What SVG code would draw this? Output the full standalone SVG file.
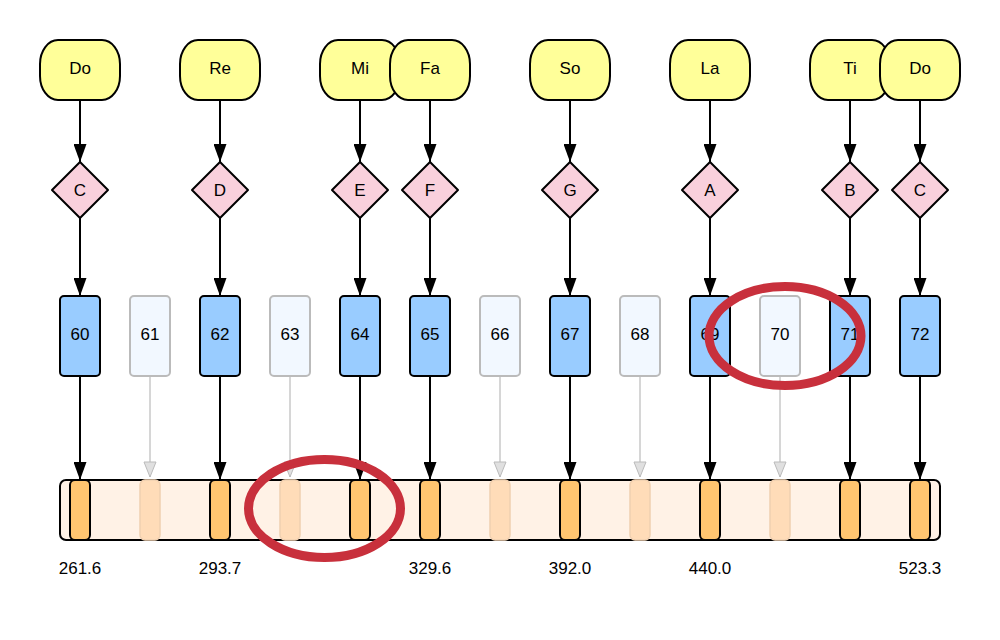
<svg xmlns="http://www.w3.org/2000/svg" width="1000" height="640" viewBox="0 0 1000 640">
<defs>
<style>
text{font-family:"Liberation Sans",Arial,sans-serif;font-size:17px;fill:#000;text-anchor:middle;dominant-baseline:central}
.syl{fill:#ffff99;stroke:#000;stroke-width:2}
.dia{fill:#f9d0dc;stroke:#000;stroke-width:2;stroke-linejoin:round}
.key{fill:#99ccff;stroke:#000;stroke-width:2}
.gkey{fill:#f2f8ff;stroke:#bbbbbb;stroke-width:2}
.bar{fill:#fff2e6;stroke:#000;stroke-width:2}
.pk{fill:#ffc570;stroke:#000;stroke-width:2}
.gpk{fill:#ffdcb8;stroke:#f0d0b0;stroke-width:1.5}
.c{stroke:#000;stroke-width:2;fill:none;marker-end:url(#ah)}
.g{stroke:#c8c8c8;stroke-width:1.5;fill:none;marker-end:url(#gh)}
.mark{fill:none;stroke:#c8303c;stroke-width:9}
</style>
<marker id="ah" viewBox="0 0 18 13" refX="18" refY="6.5" markerWidth="18" markerHeight="13" markerUnits="userSpaceOnUse" orient="auto">
<path d="M0,0 L18,6.5 L0,13 Z" fill="#000"/>
</marker>
<marker id="gh" viewBox="-1 -1 17 14" refX="15" refY="6" markerWidth="17" markerHeight="14" markerUnits="userSpaceOnUse" orient="auto">
<path d="M0,0 L15,6 L0,12 Z" fill="#e0e0e0" stroke="#bbbbbb" stroke-width="1"/>
</marker>
</defs>
<rect width="1000" height="640" fill="#fff"/>

<g id="connectors">
<line class="c" x1="80" y1="100" x2="80" y2="162"/>
<line class="c" x1="220" y1="100" x2="220" y2="162"/>
<line class="c" x1="360" y1="100" x2="360" y2="162"/>
<line class="c" x1="430" y1="100" x2="430" y2="162"/>
<line class="c" x1="570" y1="100" x2="570" y2="162"/>
<line class="c" x1="710" y1="100" x2="710" y2="162"/>
<line class="c" x1="850" y1="100" x2="850" y2="162"/>
<line class="c" x1="920" y1="100" x2="920" y2="162"/>
<line class="c" x1="80" y1="218" x2="80" y2="296"/>
<line class="c" x1="220" y1="218" x2="220" y2="296"/>
<line class="c" x1="360" y1="218" x2="360" y2="296"/>
<line class="c" x1="430" y1="218" x2="430" y2="296"/>
<line class="c" x1="570" y1="218" x2="570" y2="296"/>
<line class="c" x1="710" y1="218" x2="710" y2="296"/>
<line class="c" x1="850" y1="218" x2="850" y2="296"/>
<line class="c" x1="920" y1="218" x2="920" y2="296"/>
<line class="c" x1="80" y1="376" x2="80" y2="480"/>
<line class="c" x1="220" y1="376" x2="220" y2="480"/>
<line class="c" x1="360" y1="376" x2="360" y2="480"/>
<line class="c" x1="430" y1="376" x2="430" y2="480"/>
<line class="c" x1="570" y1="376" x2="570" y2="480"/>
<line class="c" x1="710" y1="376" x2="710" y2="480"/>
<line class="c" x1="850" y1="376" x2="850" y2="480"/>
<line class="c" x1="920" y1="376" x2="920" y2="480"/>
<line class="g" x1="150" y1="376" x2="150" y2="477"/>
<line class="g" x1="290" y1="376" x2="290" y2="477"/>
<line class="g" x1="500" y1="376" x2="500" y2="477"/>
<line class="g" x1="640" y1="376" x2="640" y2="477"/>
<line class="g" x1="780" y1="376" x2="780" y2="477"/>
</g>

<g id="syl-do"><rect class="syl" x="40" y="40" width="80" height="60" rx="18" ry="24"/><text x="80" y="68">Do</text></g>
<g id="syl-re"><rect class="syl" x="180" y="40" width="80" height="60" rx="18" ry="24"/><text x="220" y="68">Re</text></g>
<g id="syl-mi"><rect class="syl" x="320" y="40" width="80" height="60" rx="18" ry="24"/><text x="360" y="68">Mi</text></g>
<g id="syl-fa"><rect class="syl" x="390" y="40" width="80" height="60" rx="18" ry="24"/><text x="430" y="68">Fa</text></g>
<g id="syl-so"><rect class="syl" x="530" y="40" width="80" height="60" rx="18" ry="24"/><text x="570" y="68">So</text></g>
<g id="syl-la"><rect class="syl" x="670" y="40" width="80" height="60" rx="18" ry="24"/><text x="710" y="68">La</text></g>
<g id="syl-ti"><rect class="syl" x="810" y="40" width="80" height="60" rx="18" ry="24"/><text x="850" y="68">Ti</text></g>
<g id="syl-do2"><rect class="syl" x="880" y="40" width="80" height="60" rx="18" ry="24"/><text x="920" y="68">Do</text></g>

<g id="note-c"><path class="dia" d="M80,162 L108,190 L80,218 L52,190 Z"/><text x="80" y="190">C</text></g>
<g id="note-d"><path class="dia" d="M220,162 L248,190 L220,218 L192,190 Z"/><text x="220" y="190">D</text></g>
<g id="note-e"><path class="dia" d="M360,162 L388,190 L360,218 L332,190 Z"/><text x="360" y="190">E</text></g>
<g id="note-f"><path class="dia" d="M430,162 L458,190 L430,218 L402,190 Z"/><text x="430" y="190">F</text></g>
<g id="note-g"><path class="dia" d="M570,162 L598,190 L570,218 L542,190 Z"/><text x="570" y="190">G</text></g>
<g id="note-a"><path class="dia" d="M710,162 L738,190 L710,218 L682,190 Z"/><text x="710" y="190">A</text></g>
<g id="note-b"><path class="dia" d="M850,162 L878,190 L850,218 L822,190 Z"/><text x="850" y="190">B</text></g>
<g id="note-c2"><path class="dia" d="M920,162 L948,190 L920,218 L892,190 Z"/><text x="920" y="190">C</text></g>

<g id="key-60"><rect class="key" x="60" y="296" width="40" height="80" rx="4"/><text x="80" y="334">60</text></g>
<g id="key-61"><rect class="gkey" x="130" y="296" width="40" height="80" rx="4"/><text x="150" y="334">61</text></g>
<g id="key-62"><rect class="key" x="200" y="296" width="40" height="80" rx="4"/><text x="220" y="334">62</text></g>
<g id="key-63"><rect class="gkey" x="270" y="296" width="40" height="80" rx="4"/><text x="290" y="334">63</text></g>
<g id="key-64"><rect class="key" x="340" y="296" width="40" height="80" rx="4"/><text x="360" y="334">64</text></g>
<g id="key-65"><rect class="key" x="410" y="296" width="40" height="80" rx="4"/><text x="430" y="334">65</text></g>
<g id="key-66"><rect class="gkey" x="480" y="296" width="40" height="80" rx="4"/><text x="500" y="334">66</text></g>
<g id="key-67"><rect class="key" x="550" y="296" width="40" height="80" rx="4"/><text x="570" y="334">67</text></g>
<g id="key-68"><rect class="gkey" x="620" y="296" width="40" height="80" rx="4"/><text x="640" y="334">68</text></g>
<g id="key-69"><rect class="key" x="690" y="296" width="40" height="80" rx="4"/><text x="710" y="334">69</text></g>
<g id="key-70"><rect class="gkey" x="760" y="296" width="40" height="80" rx="4"/><text x="780" y="334">70</text></g>
<g id="key-71"><rect class="key" x="830" y="296" width="40" height="80" rx="4"/><text x="850" y="334">71</text></g>
<g id="key-72"><rect class="key" x="900" y="296" width="40" height="80" rx="4"/><text x="920" y="334">72</text></g>

<g id="keyboard">
<rect class="bar" x="60" y="480" width="880" height="60" rx="6"/>
<rect class="pk" x="70" y="480" width="20" height="60" rx="5"/>
<rect class="gpk" x="140" y="480" width="20" height="60" rx="5"/>
<rect class="pk" x="210" y="480" width="20" height="60" rx="5"/>
<rect class="gpk" x="280" y="480" width="20" height="60" rx="5"/>
<rect class="pk" x="350" y="480" width="20" height="60" rx="5"/>
<rect class="pk" x="420" y="480" width="20" height="60" rx="5"/>
<rect class="gpk" x="490" y="480" width="20" height="60" rx="5"/>
<rect class="pk" x="560" y="480" width="20" height="60" rx="5"/>
<rect class="gpk" x="630" y="480" width="20" height="60" rx="5"/>
<rect class="pk" x="700" y="480" width="20" height="60" rx="5"/>
<rect class="gpk" x="770" y="480" width="20" height="60" rx="5"/>
<rect class="pk" x="840" y="480" width="20" height="60" rx="5"/>
<rect class="pk" x="910" y="480" width="20" height="60" rx="5"/>
</g>

<g id="freqs">
<text x="80" y="568">261.6</text>
<text x="220" y="568">293.7</text>
<text x="430" y="568">329.6</text>
<text x="570" y="568">392.0</text>
<text x="710" y="568">440.0</text>
<text x="920" y="568">523.3</text>
</g>

<g id="marks">
<ellipse class="mark" cx="785" cy="336" rx="76" ry="49.5"/>
<ellipse class="mark" cx="324.5" cy="508.5" rx="76" ry="49"/>
</g>
</svg>
